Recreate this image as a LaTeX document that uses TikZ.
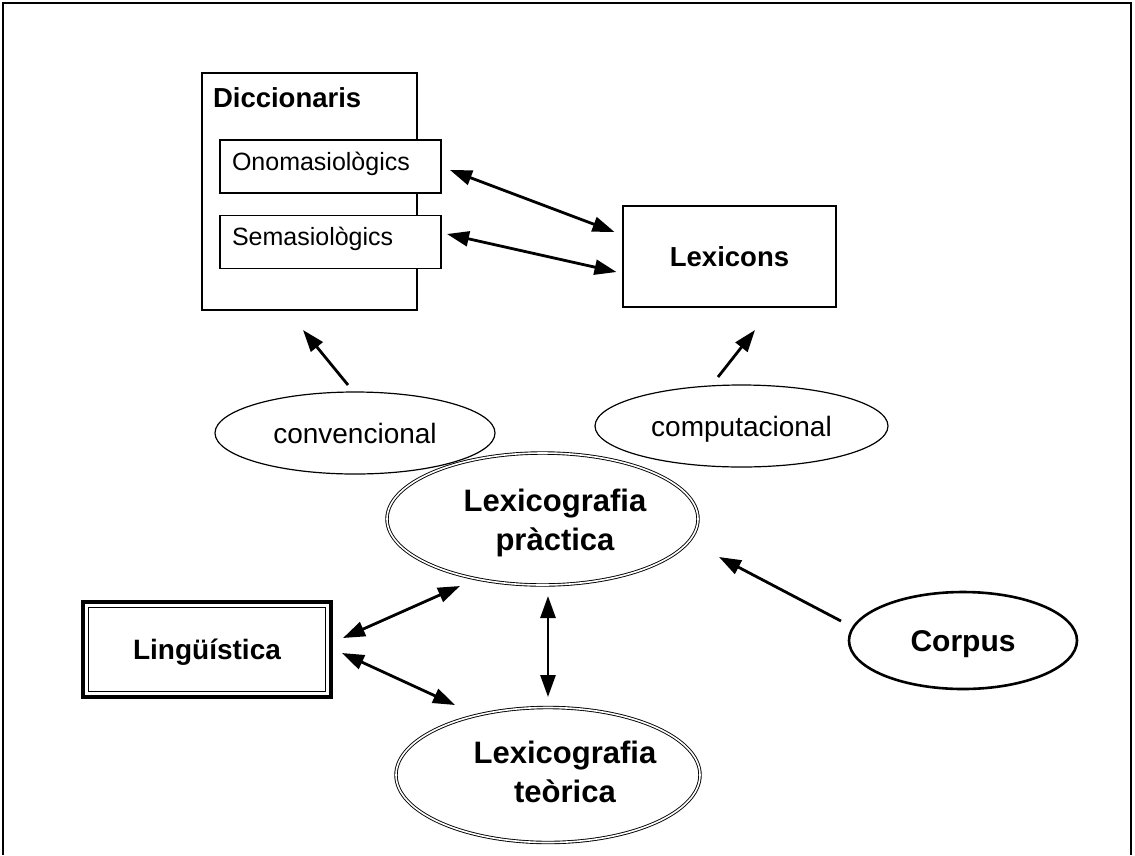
\documentclass[tikz,border=0pt]{standalone}
\usepackage{fontspec}
\setmainfont{Liberation Sans}
\usetikzlibrary{arrows.meta,shapes.geometric}

\newcommand\fsz[2]{\fontsize{#1}{#2}\selectfont}

\begin{document}
\begin{tikzpicture}[x=1pt,y=-1pt,
  every node/.style={outer sep=0pt},
  box/.style={draw, line width=1.5pt, fill=white, inner sep=0pt},
  subbox/.style={box, minimum height=53pt, text width=197pt, inner xsep=12pt,
    inner ysep=0pt, align=left, font=\fsz{25}{30}, text height=18pt, text depth=11pt},
  ell/.style={ellipse, draw, inner sep=0pt},
  thinell/.style={ell, line width=1.2pt, minimum height=82pt,
    font=\fsz{28}{30}, text height=20pt, text depth=0pt},
  dblell/.style={ell, double, double distance=1.6pt, line width=0.9pt},
  bigtext/.style={font=\bfseries\fsz{31}{39}, align=center, inner sep=0pt},
  tipshape/.tip={Triangle[length=22pt,width=15pt]},
  arr/.style={line width=2.8pt, -tipshape},
  darr/.style={line width=2.8pt, tipshape-tipshape}
]
\useasboundingbox (0,0) rectangle (1135,855);

% outer frame (open at the bottom)
\draw[line width=2pt] (3,855) -- (3,3) -- (1131,3) -- (1131,855);

% dictionaries and their two kinds
\node[box, minimum width=215pt, minimum height=237pt] (dicc) at (309.5,191.5) {};
\node[anchor=base west, font=\bfseries\fsz{27.5}{30}, inner sep=0pt] (dicctitle) at (213,107) {Diccionaris};
\node[subbox] (ono) at (330.5,166.5) {Onomasiològics};
\node[subbox] (sema) at (330.5,242) {Semasiològics};

% lexicons
\node[box, minimum width=213pt, minimum height=101pt, font=\bfseries\fsz{27.5}{30},
  text height=19.7pt, text depth=0pt] (lex) at (729.5,256.5) {Lexicons};

% kinds of practical lexicography
\node[thinell, minimum width=280pt] (conv) at (355,433) {convencional};
\node[thinell, minimum width=293pt] (comp) at (741.5,426) {computacional};

% practical and theoretical lexicography
\node[dblell, minimum width=311pt, minimum height=132pt] (prac) at (542.5,519) {};
\node[bigtext] (practext) at (555,522.5) {Lexicografia\\pràctica};
\node[dblell, minimum width=304pt, minimum height=135pt] (teor) at (548,775) {};
\node[bigtext] (teortext) at (565,772) {Lexicografia\\teòrica};

% linguistics, framed twice
\node[draw, line width=3.2pt, minimum width=248pt, minimum height=95pt, inner sep=0pt,
  font=\bfseries\fsz{28}{30}, text height=20pt, text depth=0pt] (ling) at (207,649.5) {Lingüística};
\draw[line width=1.5pt] ([shift={(5.5pt,-5.5pt)}]ling.north west)
  rectangle ([shift={(-5.5pt,5.5pt)}]ling.south east);

% corpus
\node[ell, line width=2.6pt, minimum width=228pt, minimum height=97pt,
  font=\bfseries\fsz{30}{32}, text height=21.5pt, text depth=0pt] (corpus) at (963,640.5) {Corpus};

% connectors
\draw[darr] ([xshift=9pt,yshift=-3.5pt]ono.east) -- ([xshift=-8.5pt,yshift=-26pt]lex.north west);
\draw[darr] ([xshift=6pt,yshift=8pt]sema.east) -- ([xshift=-6.5pt,yshift=-15.5pt]lex.west);
\draw[arr] ([xshift=-7pt,yshift=7pt]conv.north) -- ([xshift=-6.5pt,yshift=-20pt]dicc.south);
\draw[arr] ([xshift=-23.5pt,yshift=8pt]comp.north) -- ([xshift=25.5pt,yshift=-23pt]lex.south);
\draw[darr] ([xshift=12pt,yshift=11.5pt]ling.east) -- ([xshift=-82.5pt,yshift=-1pt]prac.south);
\draw[darr] ([xshift=11pt,yshift=-3.5pt]ling.east) -- ([xshift=-93pt,yshift=2.5pt]teor.north);
\draw[darr] ([xshift=5.5pt,yshift=-11pt]prac.south) -- ([yshift=10.5pt]teor.north);
\draw[arr] ([xshift=-8pt,yshift=19.5pt]corpus.west) -- ([xshift=21pt,yshift=-38pt]prac.east);
\end{tikzpicture}
\end{document}
